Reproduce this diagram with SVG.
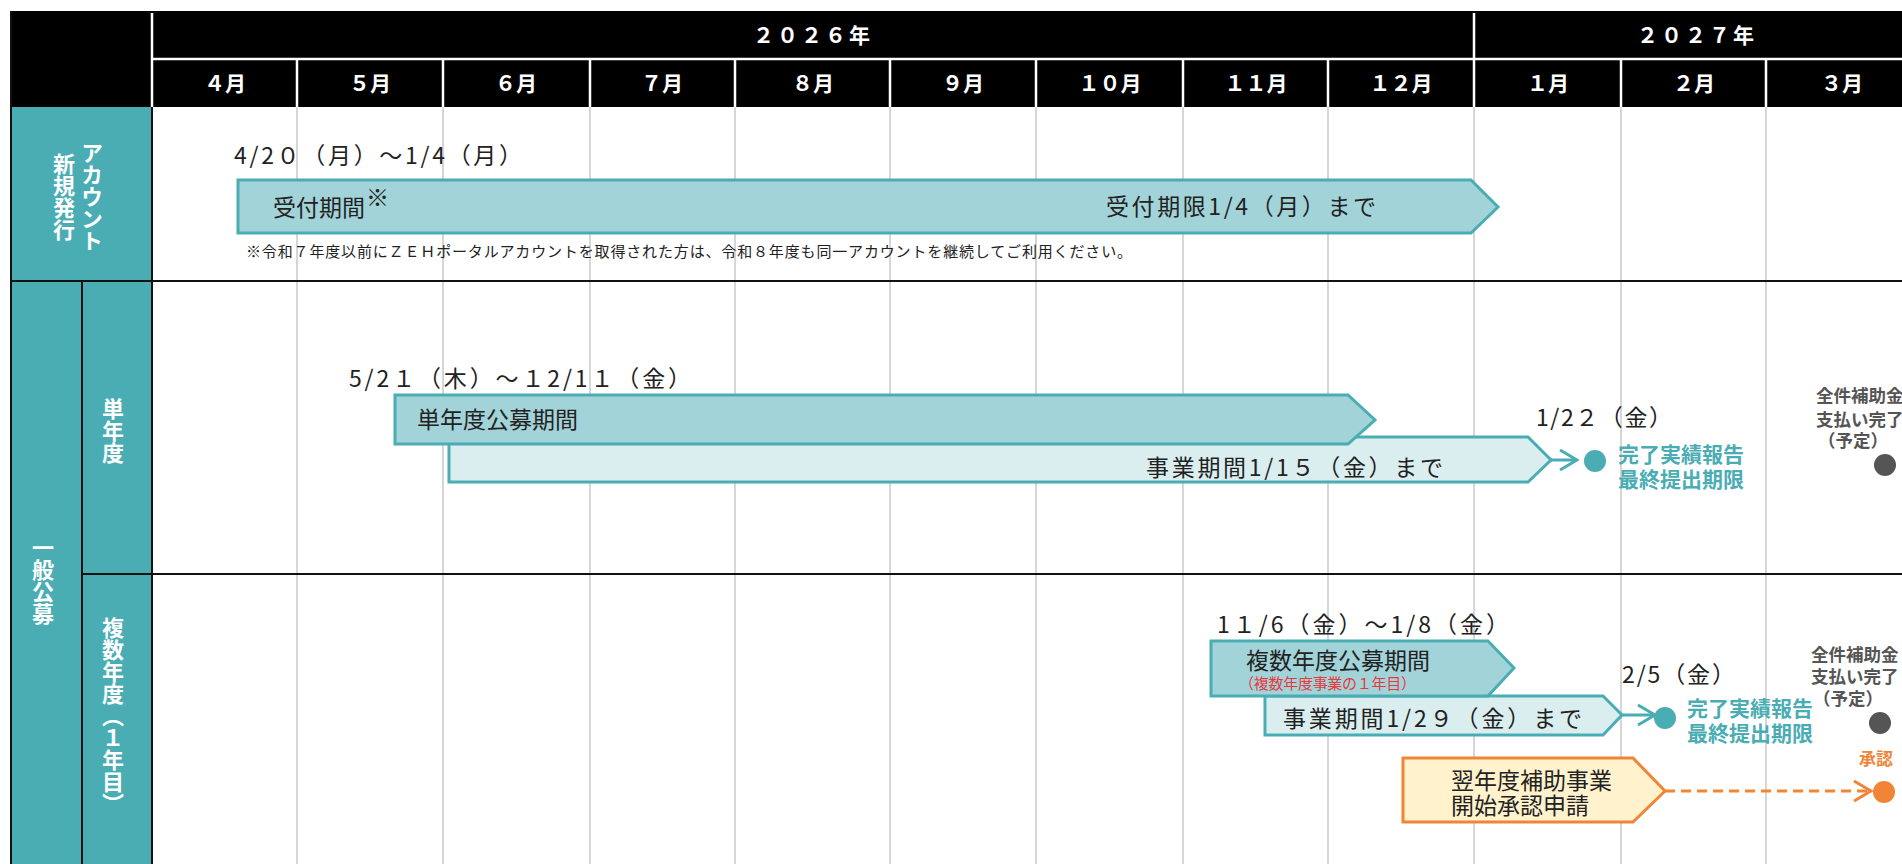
<svg xmlns="http://www.w3.org/2000/svg" width="1902" height="864" viewBox="0 0 1902 864">
<defs>
<style>
text{font-family:"Noto Sans CJK JP","Noto Sans CJK SC",sans-serif;}
.hd{fill:#fff;font-weight:700;font-size:21px;text-anchor:middle;}
.yr{fill:#fff;font-weight:700;font-size:21px;text-anchor:middle;letter-spacing:3px;}
.vl{fill:#fff;font-weight:700;font-size:22px;writing-mode:vertical-rl;text-anchor:middle;}
.wl{stroke:#fff;stroke-width:2.5;}
.grid{stroke:#c8c8c8;stroke-width:1.5;}
.rule{stroke:#111;stroke-width:2;}
.bar{fill:#a2d3d9;stroke:#4aadb4;stroke-width:3;}
.bar2{fill:#daeef0;stroke:#4aadb4;stroke-width:3;}
.obar{fill:#fff2cc;stroke:#f08537;stroke-width:3;}
.lbl{fill:#222;font-size:23px;}
.note{fill:#222;font-size:15px;}
.red{fill:#e8383d;font-size:15px;}
.tl{fill:#4aadb4;font-weight:700;font-size:21px;}
.gy{fill:#555;font-weight:700;font-size:17.5px;}
.og{fill:#f08537;font-weight:700;font-size:17px;}
.conn{stroke:#4aadb4;stroke-width:3;fill:none;}
.oconn{stroke:#f08537;stroke-width:3;fill:none;stroke-dasharray:10 6;}
</style>
<marker id="ah" viewBox="0 0 20 22" refX="18" refY="11" markerWidth="20" markerHeight="22" markerUnits="userSpaceOnUse" orient="auto">
<path d="M1,1 L18,11 L1,21" fill="none" stroke="#4aadb4" stroke-width="3"/>
</marker>
<marker id="oah" viewBox="0 0 20 22" refX="18" refY="11" markerWidth="20" markerHeight="22" markerUnits="userSpaceOnUse" orient="auto">
<path d="M1,1 L18,11 L1,21" fill="none" stroke="#f08537" stroke-width="3"/>
</marker>
</defs>
<rect width="1902" height="864" fill="#fff"/>

<g id="header">
<rect x="11" y="11" width="1891" height="96" fill="#000"/>
<line class="wl" x1="152" y1="59" x2="1902" y2="59"/>
<line class="wl" x1="152" y1="13" x2="152" y2="107"/>
<line class="wl" x1="1474" y1="13" x2="1474" y2="107"/>
<line class="wl" x1="297" y1="59" x2="297" y2="107"/>
<line class="wl" x1="443" y1="59" x2="443" y2="107"/>
<line class="wl" x1="590" y1="59" x2="590" y2="107"/>
<line class="wl" x1="735" y1="59" x2="735" y2="107"/>
<line class="wl" x1="890" y1="59" x2="890" y2="107"/>
<line class="wl" x1="1036" y1="59" x2="1036" y2="107"/>
<line class="wl" x1="1183" y1="59" x2="1183" y2="107"/>
<line class="wl" x1="1328" y1="59" x2="1328" y2="107"/>
<line class="wl" x1="1621" y1="59" x2="1621" y2="107"/>
<line class="wl" x1="1766" y1="59" x2="1766" y2="107"/>
<text class="yr" x="813" y="43">２０２６年</text>
<text class="yr" x="1697" y="43">２０２７年</text>
<text class="hd" x="225" y="91">４月</text>
<text class="hd" x="370" y="91">５月</text>
<text class="hd" x="516" y="91">６月</text>
<text class="hd" x="662" y="91">７月</text>
<text class="hd" x="813" y="91">８月</text>
<text class="hd" x="963" y="91">９月</text>
<text class="hd" x="1110" y="91">１０月</text>
<text class="hd" x="1256" y="91">１１月</text>
<text class="hd" x="1401" y="91">１２月</text>
<text class="hd" x="1548" y="91">１月</text>
<text class="hd" x="1694" y="91">２月</text>
<text class="hd" x="1842" y="91">３月</text>
</g>

<g id="grid">
<line class="grid" x1="297" y1="107" x2="297" y2="864"/>
<line class="grid" x1="443" y1="107" x2="443" y2="864"/>
<line class="grid" x1="590" y1="107" x2="590" y2="864"/>
<line class="grid" x1="735" y1="107" x2="735" y2="864"/>
<line class="grid" x1="890" y1="107" x2="890" y2="864"/>
<line class="grid" x1="1036" y1="107" x2="1036" y2="864"/>
<line class="grid" x1="1183" y1="107" x2="1183" y2="864"/>
<line class="grid" x1="1328" y1="107" x2="1328" y2="864"/>
<line class="grid" x1="1474" y1="107" x2="1474" y2="864"/>
<line class="grid" x1="1621" y1="107" x2="1621" y2="864"/>
<line class="grid" x1="1766" y1="107" x2="1766" y2="864"/>
<line class="rule" x1="11" y1="281" x2="1902" y2="281"/>
<line class="rule" x1="82" y1="574" x2="1902" y2="574"/>
</g>

<g id="row-labels">
<rect x="11" y="107" width="141" height="757" fill="#4aadb4"/>
<line class="rule" x1="11" y1="11" x2="11" y2="864"/>
<line class="rule" x1="152" y1="107" x2="152" y2="864"/>
<line class="rule" x1="82" y1="281" x2="82" y2="864"/>
<line class="rule" x1="11" y1="281" x2="152" y2="281"/>
<line class="rule" x1="82" y1="574" x2="152" y2="574"/>
<text class="vl" x="92" y="197">アカウント</text>
<text class="vl" x="64" y="197">新規発行</text>
<text class="vl" x="43" y="581">一般公募</text>
<text class="vl" x="113" y="431">単年度</text>
<text class="vl" x="113" y="716">複数年度（１年目）</text>
</g>

<g id="account-period">
<text class="lbl" x="234" y="164" textLength="288" lengthAdjust="spacing">4/2０（月）～1/4（月）</text>
<polygon class="bar" points="238,180 1471,180 1498,207 1471,233 238,233"/>
<text class="lbl" x="273" y="216">受付期間</text>
<text class="lbl" x="366" y="206" font-size="15">※</text>
<text class="lbl" x="1106" y="215" textLength="270" lengthAdjust="spacing">受付期限1/4（月）まで</text>
<text class="note" x="246" y="257" textLength="886" lengthAdjust="spacing">※令和７年度以前にＺＥＨポータルアカウントを取得された方は、令和８年度も同一アカウントを継続してご利用ください。</text>
</g>

<g id="single-business">
<polygon class="bar2" points="449,437 1528,437 1551,460 1528,482 449,482"/>
<text class="lbl" x="1146" y="476" textLength="297" lengthAdjust="spacing">事業期間1/1５（金）まで</text>
</g>
<g id="single-call">
<text class="lbl" x="349" y="387" textLength="342" lengthAdjust="spacing">5/2１（木）～１2/1１（金）</text>
<polygon class="bar" points="395,395 1348,395 1375,420 1348,444 395,444"/>
<text class="lbl" x="417" y="428">単年度公募期間</text>
</g>

<g id="multi-business">
<polygon class="bar2" points="1265,696 1603,696 1622,715 1603,735 1265,735"/>
<text class="lbl" x="1283" y="727" textLength="299" lengthAdjust="spacing">事業期間1/2９（金）まで</text>
</g>
<g id="multi-call">
<text class="lbl" x="1217" y="633" textLength="292" lengthAdjust="spacing">1１/6（金）～1/8（金）</text>
<polygon class="bar" points="1211,641 1488,641 1514,668 1488,696 1211,696"/>
<text class="lbl" x="1246" y="669">複数年度公募期間</text>
<text class="red" x="1239" y="689" textLength="177" lengthAdjust="spacing">（複数年度事業の１年目）</text>
</g>

<g id="next-year-apply">
<polygon class="obar" points="1403,758 1633,758 1665,791 1633,822 1403,822"/>
<text class="lbl" x="1451" y="789" font-size="21">翌年度補助事業</text>
<text class="lbl" x="1451" y="814" font-size="21">開始承認申請</text>
</g>

<g id="connectors">
<line class="conn" x1="1551" y1="460" x2="1577" y2="460" marker-end="url(#ah)"/>
<line class="conn" x1="1622" y1="715" x2="1655" y2="715" marker-end="url(#ah)"/>
<line class="oconn" x1="1665" y1="791" x2="1871" y2="791" marker-end="url(#oah)"/>
</g>

<g id="single-report">
<circle cx="1595" cy="461" r="11" fill="#4aadb4"/>
<text class="lbl" x="1536" y="426" textLength="136" lengthAdjust="spacing">1/2２（金）</text>
<text class="tl" x="1618" y="462">完了実績報告</text>
<text class="tl" x="1618" y="487">最終提出期限</text>
</g>
<g id="single-payment">
<circle cx="1885" cy="465" r="11" fill="#555"/>
<text class="gy" x="1816" y="402">全件補助金</text>
<text class="gy" x="1816" y="426">支払い完了</text>
<text class="gy" x="1818" y="447">（予定）</text>
</g>

<g id="multi-report">
<circle cx="1665" cy="718" r="11" fill="#4aadb4"/>
<text class="lbl" x="1622" y="683" textLength="113" lengthAdjust="spacing">2/5（金）</text>
<text class="tl" x="1687" y="716">完了実績報告</text>
<text class="tl" x="1687" y="741">最終提出期限</text>
</g>
<g id="multi-payment">
<circle cx="1880" cy="723" r="11" fill="#555"/>
<text class="gy" x="1811" y="661">全件補助金</text>
<text class="gy" x="1811" y="683">支払い完了</text>
<text class="gy" x="1813" y="705">（予定）</text>
</g>
<g id="approval">
<circle cx="1884" cy="792" r="11" fill="#f08537"/>
<text class="og" x="1859" y="765">承認</text>
</g>
</svg>
